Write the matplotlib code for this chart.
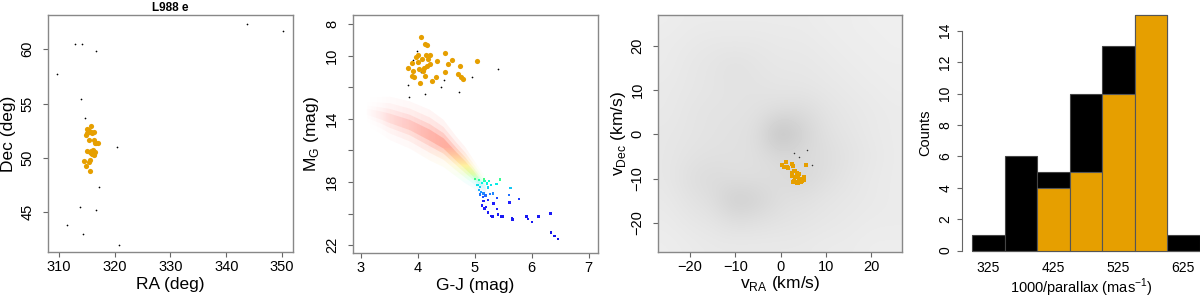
import numpy as np
import matplotlib
matplotlib.use("Agg")
import matplotlib.pyplot as plt
from matplotlib.patches import Polygon
from matplotlib.colors import LinearSegmentedColormap, Normalize

plt.rcParams['font.family'] = ['Liberation Sans', 'DejaVu Sans']

ORANGE = '#E69F00'
AXCOL = '#666666'

# --- panel 1: sky positions ---
ra_mem = [315.69, 315.02, 315.33, 315.74, 316.28, 314.84, 315.33, 316.22, 316.46, 316.94,
          315.02, 315.62, 316.10, 316.40, 315.86, 316.34, 316.04, 314.43, 315.62, 315.44,
          314.90, 315.50, 315.20, 315.55, 315.90, 316.15, 315.75, 316.20, 315.95, 315.10,
          316.60, 315.40, 315.80, 316.05]
dec_mem = [52.94, 52.66, 52.45, 52.36, 52.38, 52.14, 51.65, 51.62, 51.34, 51.34,
           50.66, 50.54, 50.66, 50.54, 50.36, 50.33, 50.73, 49.74, 49.83, 49.62,
           49.23, 48.77, 52.55, 52.40, 52.30, 50.45, 50.60, 50.25, 50.50, 52.30,
           51.40, 52.50, 50.45, 50.40]
ra_non = [343.8, 350.2, 312.8, 314.1, 316.7, 309.6, 313.9, 314.7, 320.4, 317.2,
          313.7, 316.6, 311.4, 314.25, 320.7]
dec_non = [62.3, 61.7, 60.5, 60.5, 59.8, 57.75, 55.4, 53.65, 51.0, 47.3,
           45.45, 45.2, 43.8, 43.0, 42.0]

# --- panel 2: colour-magnitude diagram ---
gj_mem = [4.049, 4.125, 4.16, 3.996, 4.148, 4.207, 4.471, 4.072, 4.183, 3.89,
          4.007, 4.336, 4.594, 5.045, 4.207, 4.165, 4.524, 3.82, 4.014, 4.74,
          3.91, 4.084, 4.483, 3.89, 3.94, 4.13, 4.32, 4.70, 4.75, 4.79,
          4.04, 4.24, 4.10, 3.97]
mg_mem = [8.84, 9.27, 9.35, 9.98, 9.98, 9.98, 9.82, 10.22, 10.24, 10.47,
          10.39, 10.32, 10.30, 10.34, 10.55, 10.66, 10.55, 10.76, 10.85, 10.68,
          10.99, 10.95, 11.04, 11.27, 11.37, 11.31, 11.35, 11.18, 11.35, 11.50,
          11.71, 11.60, 10.80, 10.10]
gj_non = [3.98, 3.92, 3.98, 4.05, 5.40, 4.95, 3.82, 4.45, 4.40, 4.72, 3.84, 4.13, 4.10]
mg_non = [9.69, 10.26, 10.45, 11.04, 10.87, 11.35, 11.84, 11.56, 11.99, 12.30, 12.60, 12.41, 10.90]

# field main sequence ridge (centre, half width, relative density)
ms_gj = [3.10, 3.33, 3.51, 3.86, 4.21, 4.45, 4.68, 4.83, 4.97, 5.09, 5.20]
ms_mg = [13.55, 13.76, 13.97, 14.39, 15.03, 15.55, 16.40, 16.92, 17.45, 17.98, 18.40]
ms_half = [0.40, 0.50, 0.60, 0.65, 0.70, 0.65, 0.55, 0.50, 0.40, 0.35, 0.30]
ms_dens = [0.05, 0.20, 0.40, 0.65, 0.90, 1.00, 1.00, 1.00, 0.85, 0.55, 0.15]

# faint field stars below the ridge
gj_faint = [5.00, 5.07, 5.16, 5.17, 5.13, 5.21, 5.25, 5.28, 5.05, 5.09, 5.23, 5.38, 5.44,
            5.07, 5.11, 5.09, 5.15, 5.19, 5.27, 5.32, 5.14, 5.15, 5.13, 5.17, 5.23, 5.33, 5.39,
            5.63, 5.60, 5.78, 5.61, 5.20, 5.39, 5.23, 5.28, 5.31, 5.41, 5.47, 5.49,
            5.65, 5.66, 5.91, 5.93, 6.01, 6.12, 6.33, 6.34, 6.40, 6.46]
mg_faint = [17.80, 17.87, 17.79, 17.92, 18.04, 18.08, 17.94, 18.19, 18.17, 18.30, 18.34, 18.13, 17.83,
            18.51, 18.63, 18.78, 18.72, 18.86, 18.74, 18.72, 18.95, 19.20, 19.48, 19.67, 19.14, 19.35, 18.99,
            18.36, 18.82, 19.06, 19.28, 19.58, 19.71, 19.92, 20.15, 20.19, 20.06, 20.17, 20.17,
            20.28, 20.37, 20.19, 20.34, 20.51, 20.17, 20.00, 21.18, 21.41, 21.62]

# --- panel 3: tangential velocities ---
vra_mem = [0.26, 1.14, 0.85, 1.73, 2.47, 2.84, 5.64, 3.20, 3.57, 4.09, 2.61, 3.28, 3.80, 5.12,
           2.91, 3.57, 4.16, 4.68, 5.19, 3.80, 2.83, 3.71, 4.53, 2.54, 1.51, 3.05, 4.75, 3.36]
vdec_mem = [-6.86, -6.26, -7.32, -7.69, -6.71, -7.16, -6.86, -8.30, -8.82, -8.98, -9.35, -9.58,
            -9.28, -9.58, -10.49, -10.71, -10.18, -10.56, -10.41, -11.08, -10.86, -10.94, -10.79,
            -8.83, -7.47, -8.22, -10.20, -9.72]
vra_non = [2.9, 4.1, 6.9, 5.8]
vdec_non = [-4.3, -5.05, -6.9, -3.6]
# field density read on a 5 km/s grid (rows: vDec 25 .. -25, cols: vRA -25 .. 25)
v_grid = [-25, -20, -15, -10, -5, 0, 5, 10, 15, 20, 25]
v_density = [
    [0.09, 0.10, 0.10, 0.10, 0.10, 0.10, 0.10, 0.09, 0.09, 0.08, 0.08],
    [0.10, 0.11, 0.12, 0.12, 0.12, 0.11, 0.11, 0.10, 0.09, 0.09, 0.08],
    [0.10, 0.12, 0.13, 0.15, 0.13, 0.12, 0.12, 0.11, 0.10, 0.09, 0.09],
    [0.11, 0.12, 0.13, 0.14, 0.14, 0.13, 0.13, 0.12, 0.11, 0.10, 0.09],
    [0.11, 0.13, 0.14, 0.14, 0.15, 0.17, 0.18, 0.14, 0.12, 0.11, 0.10],
    [0.12, 0.13, 0.14, 0.15, 0.16, 0.32, 0.22, 0.15, 0.13, 0.11, 0.10],
    [0.12, 0.14, 0.15, 0.15, 0.16, 0.19, 0.18, 0.17, 0.14, 0.12, 0.10],
    [0.12, 0.16, 0.18, 0.16, 0.16, 0.17, 0.20, 0.16, 0.13, 0.11, 0.10],
    [0.11, 0.14, 0.16, 0.25, 0.22, 0.16, 0.15, 0.13, 0.12, 0.11, 0.10],
    [0.10, 0.12, 0.13, 0.16, 0.15, 0.14, 0.13, 0.12, 0.11, 0.10, 0.10],
    [0.09, 0.10, 0.11, 0.11, 0.11, 0.11, 0.11, 0.10, 0.10, 0.09, 0.09],
]

# --- panel 4: distance histogram ---
bin_left = [300, 350, 400, 450, 500, 550, 600]
counts_all = [1, 6, 5, 10, 13, 15, 1]
counts_mem = [0, 0, 4, 5, 10, 15, 0]
hist_ticks = [325, 425, 525, 625]

FS = 10.5   # tick labels
LFS = 12.5  # axis labels
fig = plt.figure(figsize=(12, 2.97), dpi=100)


def style_box(ax):
    for s in ax.spines.values():
        s.set_color('#888888')
        s.set_linewidth(1.0)
    ax.tick_params(direction='out', length=3.8, width=0.8, color=AXCOL,
                   labelsize=FS, pad=2)
    ax.tick_params(axis='y', labelrotation=90, pad=6)
    for lab in ax.get_yticklabels():
        lab.set_va('center')


# panel 1
ax1 = fig.add_axes([0.04, 0.1515, 0.2039, 0.798])
ax1.scatter(ra_non, dec_non, s=1.5, c='black', linewidths=0)
ax1.scatter(ra_mem, dec_mem, s=14, c=ORANGE, linewidths=0)
ax1.set_xlim(308.03, 351.92)
ax1.set_ylim(41.33, 63.16)
ax1.set_xticks([310, 320, 330, 340, 350])
ax1.set_yticks([45, 50, 55, 60])
ax1.set_xlabel('RA (deg)', fontsize=LFS, labelpad=2)
ax1.set_ylabel('Dec (deg)', fontsize=LFS, labelpad=3)
ax1.set_title('L988 e', fontsize=8.5, fontweight='bold', pad=3)
style_box(ax1)

# panel 2
ax2 = fig.add_axes([0.2939, 0.148, 0.2042, 0.8013])
cmap = LinearSegmentedColormap.from_list('ms', [
    (0.0, '#ff2020'), (0.31, '#ff2a00'), (0.39, '#ff8c00'), (0.444, '#ffe000'),
    (0.5, '#a0ff00'), (0.556, '#00ffe0'), (0.622, '#20a0ff'), (0.689, '#2020ff'),
    (1.0, '#1010e0')])
norm = Normalize(13, 22)
x2lim, y2lim = (2.854, 7.16), (22.49, 7.43)
gx = np.linspace(x2lim[0], x2lim[1], 300)
gy = np.linspace(y2lim[1], y2lim[0], 400)
band = np.repeat(cmap(norm(gy))[:, None, :], len(gx), axis=1)
dens_x = np.interp(gx, ms_gj, ms_dens)
for k, a in [(2.3, 0.05), (1.6, 0.08), (1.0, 0.13), (0.5, 0.18)]:
    rgba = band.copy()
    rgba[..., 3] = a * dens_x[None, :]
    upper = [(x, m - k * w) for x, m, w in zip(ms_gj, ms_mg, ms_half)]
    lower = [(x, m + k * w) for x, m, w in zip(ms_gj, ms_mg, ms_half)]
    poly = Polygon(upper + lower[::-1], closed=True, transform=ax2.transData,
                   facecolor='none', edgecolor='none')
    im = ax2.imshow(rgba, extent=[x2lim[0], x2lim[1], y2lim[0], y2lim[1]],
                    origin='upper', aspect='auto', interpolation='bilinear', zorder=0)
    im.set_clip_path(poly)
ax2.scatter(gj_faint, mg_faint, s=3, marker='s', c=cmap(norm(np.array(mg_faint))),
            linewidths=0)
ax2.scatter(gj_non, mg_non, s=1.5, c='black', linewidths=0)
ax2.scatter(gj_mem, mg_mem, s=14, c=ORANGE, linewidths=0)
ax2.set_xlim(*x2lim)
ax2.set_ylim(*y2lim)
ax2.set_xticks([3, 4, 5, 6, 7])
ax2.set_yticks([8, 10, 12, 14, 16, 18, 20, 22])
ax2.set_yticklabels(['8', '10', '', '14', '', '18', '', '22'])
ax2.set_xlabel('G-J (mag)', fontsize=LFS, labelpad=2)
ax2.set_ylabel(r'M$_{\mathregular{G}}$ (mag)', fontsize=LFS, labelpad=3)
style_box(ax2)

# panel 3
ax3 = fig.add_axes([0.5486, 0.1505, 0.2033, 0.799])
ax3.imshow(v_density, cmap='gray_r', vmin=0, vmax=1.25, interpolation='bicubic',
           extent=[v_grid[0] - 2.5, v_grid[-1] + 2.5, v_grid[0] - 2.5, v_grid[-1] + 2.5],
           aspect='auto', zorder=0)
ax3.scatter(vra_non, vdec_non, s=1.2, c='#333333', linewidths=0)
ax3.scatter(vra_mem, vdec_mem, s=5, marker='s', c=ORANGE, linewidths=0)
ax3.set_xlim(-27, 26.9)
ax3.set_ylim(-26.7, 27)
ax3.set_xticks([-20, -10, 0, 10, 20])
ax3.set_yticks([-20, -10, 0, 10, 20])
ax3.set_xlabel(r'v$_{\mathregular{RA}}$ (km/s)', fontsize=LFS, labelpad=0)
ax3.set_ylabel(r'v$_{\mathregular{Dec}}$ (km/s)', fontsize=LFS, labelpad=2)
style_box(ax3)

# panel 4
ax4 = fig.add_axes([0.8014, 0.1246, 0.1986, 0.8566])
ax4.bar(bin_left, counts_all, width=50, align='edge', color='black',
        edgecolor='#444444', linewidth=0.8)
ax4.bar(bin_left, counts_mem, width=50, align='edge', color=ORANGE,
        edgecolor='#555555', linewidth=0.8)
ax4.set_xlim(284.1, 650.7)
ax4.set_ylim(-0.6, 15.6)
for s in ['top', 'right', 'bottom']:
    ax4.spines[s].set_visible(False)
ax4.spines['left'].set_bounds(0, 14)
ax4.spines['left'].set_color(AXCOL)
ax4.spines['left'].set_linewidth(0.8)
ax4.set_yticks(range(0, 15, 2))
ax4.set_xticks(hist_ticks)
ax4.tick_params(axis='x', length=0, labelsize=10, pad=1)
ax4.tick_params(axis='y', direction='out', length=3.8, width=0.8, color=AXCOL,
                labelsize=10, labelrotation=90, pad=3)
for lab in ax4.get_yticklabels():
    lab.set_va('center')
ax4.set_xlabel('1000/parallax (mas$^{\\mathregular{-1}}$)', fontsize=10.5, labelpad=1)
ax4.set_ylabel('Counts', fontsize=10.5, labelpad=4)

fig.savefig('out.png', dpi=100)
